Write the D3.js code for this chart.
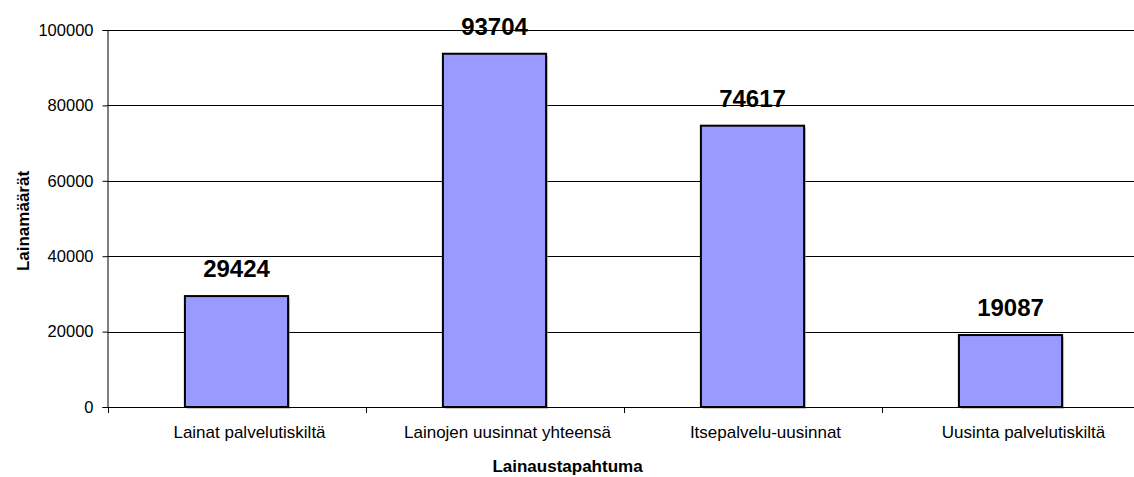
<!DOCTYPE html>
<html>
<head>
<meta charset="utf-8">
<script src="https://cdn.jsdelivr.net/npm/d3@7"></script>
<style>
  html, body { margin: 0; padding: 0; background: #fff; }
  svg { display: block; font-family: "Liberation Sans", Arial, sans-serif; }
</style>
</head>
<body>
<div id="chart"></div>
<script>
// Lainamäärät per lainaustapahtuma, single-series column chart.

const categories = [
  "Lainat palvelutiskiltä",
  "Lainojen uusinnat yhteensä",
  "Itsepalvelu-uusinnat",
  "Uusinta palvelutiskiltä",
];
const values = [29424, 93704, 74617, 19087];
const yTicks = [0, 20000, 40000, 60000, 80000, 100000];

const WIDTH = 1134;
const HEIGHT = 477;
const PLOT = { left: 107.5, right: 1139.5, top: 30, bottom: 407 };
const LABEL_SHIFT = 13; // category labels sit a bit right of the band centre

const COLORS = {
  ink: "#000",
  bar: "#9999ff",
  shadow: "#999",
};

const data = categories.map((name, i) => ({ name, value: values[i] }));

const svg = d3
  .select("#chart")
  .append("svg")
  .attr("width", WIDTH)
  .attr("height", HEIGHT)
  .attr("viewBox", [0, 0, WIDTH, HEIGHT]);

const x = d3.scaleBand().domain(categories).range([PLOT.left, PLOT.right]).padding(0);
const y = d3.scaleLinear().domain([0, 100000]).range([PLOT.bottom, PLOT.top]);

const barW = x.bandwidth() * 0.4;
const barX = (d) => x(d.name) + (x.bandwidth() - barW) / 2;

// gridlines
svg
  .append("g")
  .selectAll("line")
  .data(yTicks.slice(1))
  .join("line")
  .attr("x1", PLOT.left)
  .attr("x2", PLOT.right)
  .attr("y1", (d) => Math.round(y(d)) + 0.5)
  .attr("y2", (d) => Math.round(y(d)) + 0.5)
  .attr("stroke", COLORS.ink)
  .attr("stroke-width", 1);

// bar shadows
svg
  .append("g")
  .selectAll("rect")
  .data(data)
  .join("rect")
  .attr("x", (d) => barX(d) + 2)
  .attr("y", (d) => y(d.value) + 2)
  .attr("width", barW)
  .attr("height", (d) => y(0) - y(d.value))
  .attr("fill", COLORS.shadow)
  .attr("opacity", 0.5);

// bars
svg
  .append("g")
  .selectAll("rect")
  .data(data)
  .join("rect")
  .attr("x", barX)
  .attr("y", (d) => y(d.value))
  .attr("width", barW)
  .attr("height", (d) => y(0) - y(d.value))
  .attr("fill", COLORS.bar)
  .attr("stroke", COLORS.ink)
  .attr("stroke-width", 2);

// value labels
svg
  .append("g")
  .selectAll("text")
  .data(data)
  .join("text")
  .attr("x", (d) => x(d.name) + x.bandwidth() / 2)
  .attr("y", (d) => y(d.value) - 19)
  .attr("text-anchor", "middle")
  .style("font-size", "24px")
  .style("font-weight", "bold")
  .text((d) => d.value);

// y axis
svg
  .append("g")
  .attr("transform", `translate(${PLOT.left},0)`)
  .call(d3.axisLeft(y).tickValues(yTicks).tickFormat(d3.format("d")).tickSize(5).tickPadding(9))
  .call((g) => g.selectAll("text").style("font-size", "16.5px").attr("fill", COLORS.ink).style("font-family", "inherit"))
  .call((g) => g.selectAll("line, path").attr("stroke", COLORS.ink));

// x axis: baseline plus ticks between categories
const xAxis = svg.append("g");
xAxis
  .append("line")
  .attr("x1", PLOT.left)
  .attr("x2", PLOT.right)
  .attr("y1", PLOT.bottom + 0.5)
  .attr("y2", PLOT.bottom + 0.5)
  .attr("stroke", COLORS.ink);
xAxis
  .selectAll("line.tick")
  .data(categories)
  .join("line")
  .attr("class", "tick")
  .attr("x1", (d) => Math.round(x(d)) + 0.5)
  .attr("x2", (d) => Math.round(x(d)) + 0.5)
  .attr("y1", PLOT.bottom)
  .attr("y2", PLOT.bottom + 6)
  .attr("stroke", COLORS.ink);
xAxis
  .selectAll("text")
  .data(categories)
  .join("text")
  .attr("x", (d) => x(d) + x.bandwidth() / 2 + LABEL_SHIFT)
  .attr("y", 438)
  .attr("text-anchor", "middle")
  .style("font-size", "17px")
  .text((d) => d);

// axis titles
svg
  .append("text")
  .attr("x", 567.5)
  .attr("y", 472)
  .attr("text-anchor", "middle")
  .style("font-size", "17px")
  .style("font-weight", "bold")
  .text("Lainaustapahtuma");

svg
  .append("text")
  .attr("transform", "translate(29,221) rotate(-90)")
  .attr("text-anchor", "middle")
  .style("font-size", "17px")
  .style("font-weight", "bold")
  .text("Lainamäärät");
</script>
</body>
</html>
